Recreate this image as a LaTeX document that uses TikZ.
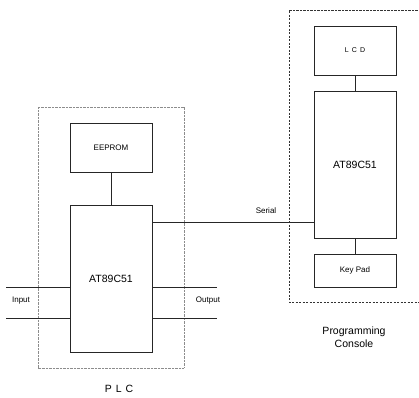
\documentclass[tikz,border=0pt]{standalone}
\usepackage{fontspec}
\setmainfont{Liberation Sans}
\begin{document}
\begin{tikzpicture}[x=1pt,y=-1pt,
  blk/.style={draw=black!85, line width=0.8pt, inner sep=0pt, minimum width=82pt},
  wire/.style={draw=black!85, line width=0.8pt},
  small/.style={font=\fontsize{8}{9.6}\selectfont, inner sep=0pt},
  big/.style={font=\fontsize{10.5}{12.6}\selectfont, inner sep=0pt},
  plcframe/.style={draw=black!45, line width=0.7pt, dash pattern=on 0.8pt off 0.6pt},
  conframe/.style={draw=black!80, line width=0.9pt, dash pattern=on 2.2pt off 1.3pt}]
\useasboundingbox (0,0) rectangle (419,397);
% frames
\draw[plcframe] (38,107) rectangle (184,368);
\draw[conframe] (421,10) -- (289,10) -- (289,302) -- (421,302);
% PLC blocks
\node[blk, minimum height=49pt, small] (eep) at (111,147.5) {EEPROM};
\node[blk, minimum height=147pt, big] (plc) at (111,278.5) {AT89C51};
% console blocks
\node[blk, minimum height=49pt, font=\fontsize{7}{8}\selectfont\addfontfeatures{LetterSpace=18}] (lcd) at (355,50.5) {L C D};
\node[blk, minimum height=147pt, big] (con) at (355,164.5) {AT89C51};
\node[blk, minimum height=33pt, small] (kp) at (355,270.5) {Key Pad};
% connectors
\draw[wire] (eep) -- (plc);
\draw[wire] (lcd) -- (con);
\draw[wire] (con) -- (kp);
\coordinate (s) at (152,222);
\draw[wire] (s) -- (s -| con.west);
\coordinate (i1) at (6,287);
\coordinate (i2) at (6,318);
\draw[wire] (i1) -- (i1 -| plc.west);
\draw[wire] (i2) -- (i2 -| plc.west);
\coordinate (o1) at (217,287);
\coordinate (o2) at (217,318);
\draw[wire] (o1 -| plc.east) -- (o1);
\draw[wire] (o2 -| plc.east) -- (o2);
% labels
\node[small] (lin) at (21,301) {Input};
\node[small] (lout) at (208,301) {Output};
\node[small] (lser) at (266,211) {Serial};
\node[big, align=center, font=\fontsize{10.5}{13}\selectfont] (lpc) at (354,337) {Programming\\Console};
\node[inner sep=0pt, font=\fontsize{10.5}{12.6}\selectfont\addfontfeatures{LetterSpace=10}] (lplc) at (119,389) {P L C};
\end{tikzpicture}
\end{document}
